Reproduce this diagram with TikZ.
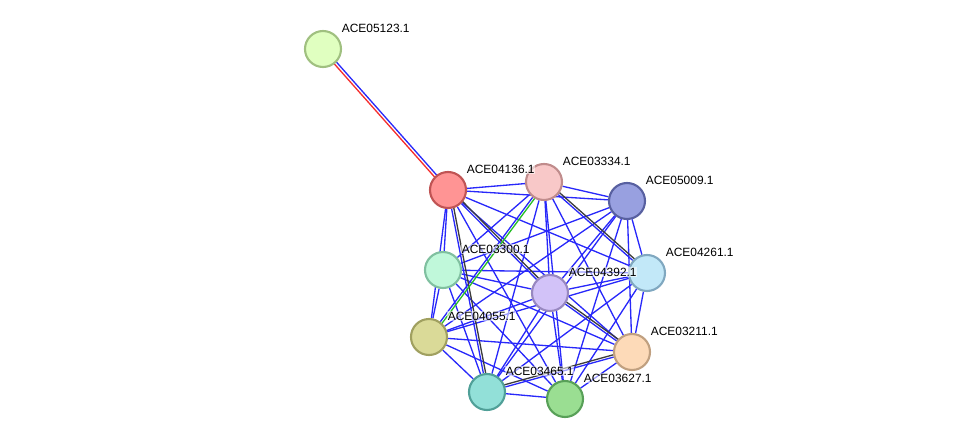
\documentclass[tikz,border=0pt]{standalone}
\usepackage{fontspec}
\setmainfont{Liberation Sans}
\usetikzlibrary{calc,backgrounds}
\definecolor{evblue}{RGB}{40,40,250}
\definecolor{evgray}{RGB}{60,60,60}
\definecolor{evred}{RGB}{245,45,45}
\definecolor{evgreen}{RGB}{40,190,40}

\begin{document}
\begin{tikzpicture}[
  prot/.style={draw,circle,line width=1.2pt,minimum size=7.2mm,inner sep=0pt},
  tag/.style={anchor=west,font=\fontsize{6.8}{8}\selectfont,inner sep=0.3pt,
    fill=white,fill opacity=0.55,text opacity=1},
  link/.style={evblue,line width=0.75pt}]
\useasboundingbox (0,0) rectangle (19.5,-8.88);
\foreach \n/\x/\y/\f/\d in {05123/6.46/-0.98/E0FFC0/A0C080,
  04136/8.96/-3.80/FF9494/C05454, 03334/10.88/-3.64/F8C8C8/C08C8C,
  05009/12.54/-4.02/98A0E0/5860A0, 03300/8.86/-5.40/C0F8DA/80C0A0,
  04392/11.00/-5.86/D2C2F8/9888C0, 04261/12.94/-5.46/C2E8F8/80A8C0,
  04055/8.58/-6.74/DADA98/A0A060, 03211/12.64/-7.04/FDDAB8/C0A080,
  03465/9.74/-7.84/92E0D8/50A098, 03627/11.30/-7.98/9ADE92/58A058}{
  \definecolor{fc}{HTML}{\f}\definecolor{dc}{HTML}{\d}
  \node[prot,fill=fc,draw=dc] (a\n) at (\x,\y) {};
}
% labels on top of every circle
\foreach \n in {05123,04136,03334,05009,03300,04392,04261,04055,03211,03465,03627}
  \node[tag] (t\n) at ($(a\n)+(0.36,0.42)$) {ACE\n.1};
\begin{scope}[on background layer]
% blue links between all members of the cluster
\foreach \a/\others in {04136/{03334,05009,03300,04392,04261,04055,03211,03465,03627},
  03334/{05009,03300,04392,04261,04055,03211,03465,03627},
  05009/{03300,04392,04261,04055,03211,03465,03627},
  03300/{04392,04261,04055,03211,03465,03627},
  04392/{04261,04055,03211,03465,03627},
  04261/{04055,03211,03465,03627},
  04055/{03211,03465,03627},
  03211/{03465,03627},
  03465/{03627}}
  \foreach \b in \others
    \draw[link] (a\a) -- (a\b);
% second lines
\foreach \a/\b in {04136/04392,04136/03465,03334/04261,04392/03211,03465/03211}
  \draw[evgray,line width=0.75pt] ($(a\a.center)!1.3pt!90:(a\b.center)$) -- ($(a\b.center)!1.3pt!-90:(a\a.center)$);
\draw[evgreen,line width=0.75pt] ($(a03334.center)!1.3pt!90:(a04055.center)$) -- ($(a04055.center)!1.3pt!-90:(a03334.center)$);
\draw[evblue,line width=0.75pt] ($(a05123.center)!0.8pt!90:(a04136.center)$) -- ($(a04136.center)!0.8pt!-90:(a05123.center)$);
\draw[evred,line width=0.75pt] ($(a05123.center)!0.8pt!-90:(a04136.center)$) -- ($(a04136.center)!0.8pt!90:(a05123.center)$);
\end{scope}
\end{tikzpicture}
\end{document}
